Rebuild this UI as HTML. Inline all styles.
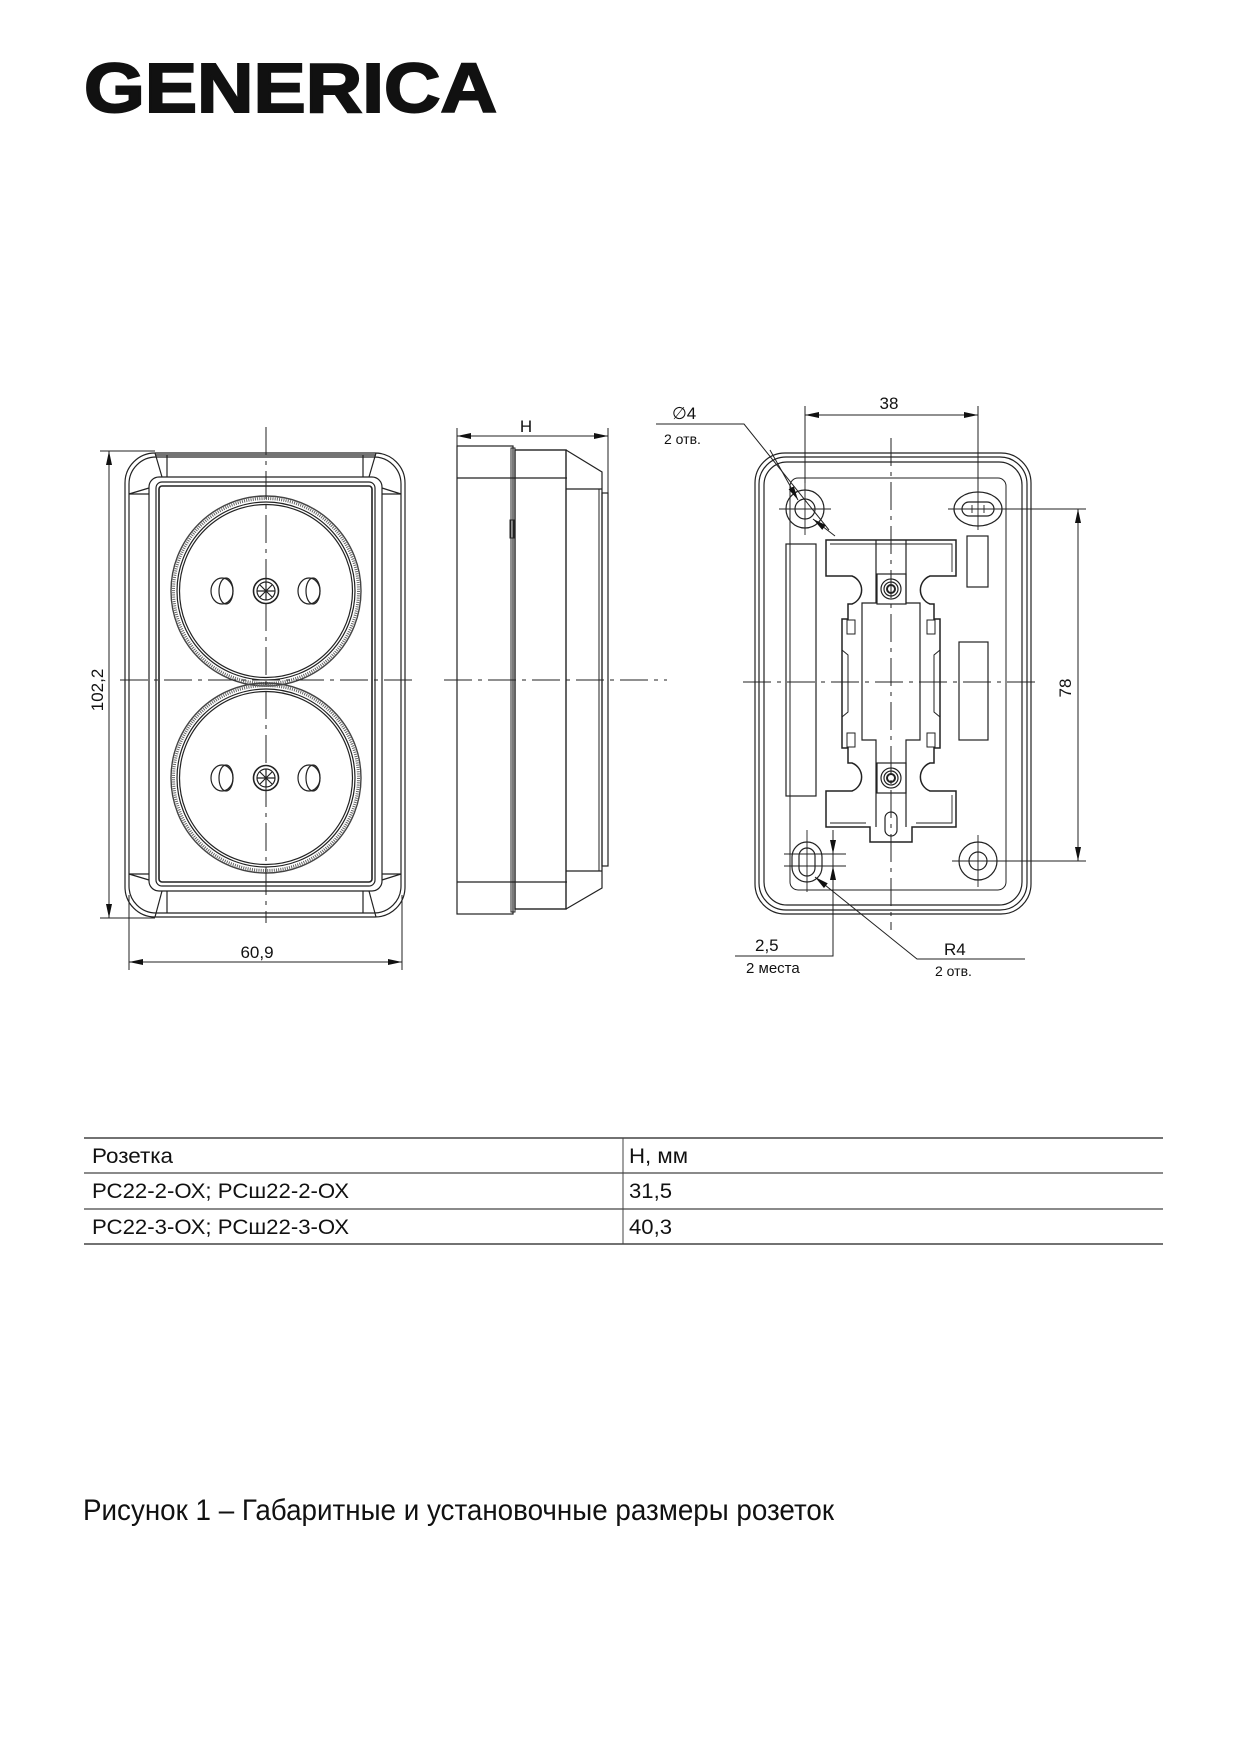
<!DOCTYPE html>
<html><head><meta charset="utf-8"><style>
html,body{margin:0;padding:0;background:#fff}
svg{display:block}
text{font-family:"Liberation Sans",Arial,sans-serif;fill:#111}
</style></head><body>
<svg width="1241" height="1748" viewBox="0 0 1241 1748" xmlns="http://www.w3.org/2000/svg">
<defs>
<marker id="ar" viewBox="0 0 14 6" refX="14" refY="3" markerWidth="14" markerHeight="6" markerUnits="userSpaceOnUse" orient="auto-start-reverse">
<path d="M0,0 L14,3 L0,6 z" fill="#111"/></marker>
</defs>
<rect width="1241" height="1748" fill="#fff"/>

<text x="84" y="112" font-size="70" font-weight="bold" textLength="413" lengthAdjust="spacingAndGlyphs" stroke="#111" stroke-width="2">GENERICA</text>

<g fill="none" stroke="#222" stroke-width="1.2">
<rect x="125" y="453" width="280" height="464" rx="30"/>
<rect x="129" y="457" width="272" height="456" rx="27"/>
<rect x="149" y="477" width="233" height="414" rx="10"/>
<rect x="156" y="482" width="219" height="404" rx="6"/>
<rect x="159" y="486" width="213" height="396" rx="3" stroke-width="1.6"/>
<line x1="155" y1="455" x2="376" y2="455"/>
<line x1="167" y1="455" x2="167" y2="477"/><line x1="363" y1="455" x2="363" y2="477"/>
<line x1="167" y1="891" x2="167" y2="913"/><line x1="363" y1="891" x2="363" y2="913"/>
<line x1="155" y1="453" x2="162" y2="477"/><line x1="376" y1="453" x2="369" y2="477"/>
<line x1="155" y1="917" x2="162" y2="891"/><line x1="376" y1="917" x2="369" y2="891"/>
<line x1="129" y1="494" x2="149" y2="488"/><line x1="401" y1="494" x2="382" y2="488"/>
<line x1="129" y1="874" x2="149" y2="880"/><line x1="401" y1="874" x2="382" y2="880"/>
<line x1="129" y1="494" x2="149" y2="494"/><line x1="382" y1="494" x2="401" y2="494"/>
<line x1="129" y1="874" x2="149" y2="874"/><line x1="382" y1="874" x2="401" y2="874"/>
<g>
<circle cx="266" cy="591" r="95" stroke="#444" stroke-width="1.4"/>
<circle cx="266" cy="591" r="92.5" stroke="#666" stroke-width="3" stroke-dasharray="1 1.2"/>
<circle cx="266" cy="591" r="89"/>
<circle cx="266" cy="591" r="86.5"/>
<ellipse cx="222" cy="591" rx="11" ry="13"/><ellipse cx="226" cy="591" rx="7" ry="13"/>
<ellipse cx="309" cy="591" rx="11" ry="13"/><ellipse cx="313" cy="591" rx="7" ry="13"/>
<circle cx="266" cy="591" r="12.5" stroke-width="1.6"/><circle cx="266" cy="591" r="9"/>
<path d="M257,591h18M266,582v18M260,585l12,12M272,585l-12,12"/>
</g>
<g>
<circle cx="266" cy="778" r="95" stroke="#444" stroke-width="1.4"/>
<circle cx="266" cy="778" r="92.5" stroke="#666" stroke-width="3" stroke-dasharray="1 1.2"/>
<circle cx="266" cy="778" r="89"/>
<circle cx="266" cy="778" r="86.5"/>
<ellipse cx="222" cy="778" rx="11" ry="13"/><ellipse cx="226" cy="778" rx="7" ry="13"/>
<ellipse cx="309" cy="778" rx="11" ry="13"/><ellipse cx="313" cy="778" rx="7" ry="13"/>
<circle cx="266" cy="778" r="12.5" stroke-width="1.6"/><circle cx="266" cy="778" r="9"/>
<path d="M257,778h18M266,769v18M260,772l12,12M272,772l-12,12"/>
</g>
<line x1="266" y1="427" x2="266" y2="923" stroke-width="1" stroke-dasharray="28 6 4 6"/>
<line x1="120" y1="680" x2="412" y2="680" stroke-width="1" stroke-dasharray="28 6 4 6"/>
<line x1="100" y1="451" x2="155" y2="451" stroke-width="1"/>
<line x1="100" y1="918" x2="155" y2="918" stroke-width="1"/>
<line x1="109" y1="451" x2="109" y2="918" stroke-width="1" marker-start="url(#ar)" marker-end="url(#ar)"/>
<line x1="129" y1="895" x2="129" y2="970" stroke-width="1"/>
<line x1="402" y1="895" x2="402" y2="970" stroke-width="1"/>
<line x1="129" y1="962" x2="402" y2="962" stroke-width="1" marker-start="url(#ar)" marker-end="url(#ar)"/>

<rect x="457" y="446" width="56" height="468"/>
<line x1="457" y1="478" x2="567" y2="478"/><line x1="457" y1="882" x2="567" y2="882"/>
<rect x="511" y="448" width="4" height="464" stroke-width="1"/>
<rect x="515" y="450" width="51" height="459" stroke-width="1.4"/>
<path d="M566,450 L602,472 L602,888 L566,909"/>
<line x1="566" y1="489" x2="602" y2="489"/><line x1="566" y1="871" x2="602" y2="871"/>
<line x1="599" y1="489" x2="599" y2="871" stroke-width="1"/>
<rect x="602" y="493" width="6" height="373"/>
<rect x="510" y="520" width="4" height="18" stroke-width="1"/>
<line x1="444" y1="680" x2="667" y2="680" stroke-width="1" stroke-dasharray="28 6 4 6"/>
<line x1="457" y1="428" x2="457" y2="446" stroke-width="1"/>
<line x1="608" y1="428" x2="608" y2="493" stroke-width="1"/>
<line x1="457" y1="436" x2="608" y2="436" stroke-width="1" marker-start="url(#ar)" marker-end="url(#ar)"/>

<rect x="755" y="453" width="276" height="461" rx="30"/>
<rect x="759" y="457" width="268" height="453" rx="27"/>
<rect x="764" y="462" width="258" height="443" rx="23"/>
<rect x="790" y="478" width="216" height="412" rx="8" stroke-width="1"/>
<circle cx="805" cy="509" r="19"/><circle cx="805" cy="509" r="10"/>
<ellipse cx="978" cy="509" rx="24" ry="17"/><rect x="962" y="502" width="32" height="14" rx="7"/>
<rect x="792" y="842" width="30" height="40" rx="15"/><rect x="799" y="848" width="16" height="28" rx="8"/>
<circle cx="978" cy="861" r="19"/><circle cx="978" cy="861" r="9"/>
<g stroke-width="0.9">
<path d="M779,509h52M805,483v52"/>
<path d="M948,509h62M978,490v40M972,505v8M984,505v8"/>
<path d="M784,854h62M784,866h62M807,830v62"/>
<path d="M952,861h52M978,835v52"/>
</g>
<rect x="786" y="544" width="30" height="252"/>
<rect x="967" y="536" width="21" height="51"/>
<rect x="959" y="642" width="29" height="98"/>
<path d="M826,540 H956 V576 H930 A15,15 0 0 0 930,604 H934 V619 H940 V748 H934 V763 H930 A15,15 0 0 0 930,791 H956 V827 H912 V842 H870 V827 H826 V791 H852 A15,15 0 0 0 852,763 H848 V748 H842 V619 H848 V604 H852 A15,15 0 0 0 852,576 H826 Z" stroke-width="1.5"/>
<path d="M830,544 H952 V572 M830,823 H866 M916,823 H952 V795" stroke-width="0.9"/>
<path d="M876,540 V603 H862 V740 H876 V827 M906,540 V603 H920 V740 H906 V827"/>
<path d="M842,650 L848,655 V712 L842,717 M940,650 L934,655 V712 L940,717" stroke-width="1"/>
<rect x="847" y="620" width="8" height="14" stroke-width="1"/><rect x="927" y="620" width="8" height="14" stroke-width="1"/>
<rect x="847" y="733" width="8" height="14" stroke-width="1"/><rect x="927" y="733" width="8" height="14" stroke-width="1"/>
<rect x="877" y="574" width="29" height="30"/><rect x="877" y="763" width="29" height="30"/>
<circle cx="891" cy="589" r="10"/><circle cx="891" cy="589" r="7"/><circle cx="891" cy="589" r="4" stroke-width="2"/>
<circle cx="891" cy="778" r="10"/><circle cx="891" cy="778" r="7"/><circle cx="891" cy="778" r="4" stroke-width="2"/>
<rect x="885" y="812" width="12" height="24" rx="6"/>
<line x1="891" y1="438" x2="891" y2="930" stroke-width="1" stroke-dasharray="28 6 4 6"/>
<line x1="743" y1="682" x2="1040" y2="682" stroke-width="1" stroke-dasharray="28 6 4 6"/>
<line x1="805" y1="406" x2="805" y2="483" stroke-width="1"/>
<line x1="978" y1="406" x2="978" y2="490" stroke-width="1"/>
<line x1="805" y1="415" x2="978" y2="415" stroke-width="1" marker-start="url(#ar)" marker-end="url(#ar)"/>
<line x1="1004" y1="509" x2="1086" y2="509" stroke-width="1"/>
<line x1="1004" y1="861" x2="1086" y2="861" stroke-width="1"/>
<line x1="1078" y1="509" x2="1078" y2="861" stroke-width="1" marker-start="url(#ar)" marker-end="url(#ar)"/>
<polyline points="656,424 744,424 829,530" stroke-width="1"/>
<line x1="770" y1="450" x2="798" y2="500" stroke-width="1" marker-end="url(#ar)"/>
<line x1="835" y1="536" x2="813" y2="519" stroke-width="1" marker-end="url(#ar)"/>
<polyline points="1025,959 917,959 815,877" stroke-width="1" marker-end="url(#ar)"/>
<polyline points="735,956 833,956 833,836" stroke-width="1"/>
<line x1="833" y1="830" x2="833" y2="854" stroke-width="1" marker-end="url(#ar)"/>
<line x1="833" y1="890" x2="833" y2="866" stroke-width="1" marker-end="url(#ar)"/>
</g>

<text x="0" y="0" font-size="17" text-anchor="middle" transform="translate(103,690) rotate(-90)">102,2</text>
<text x="257" y="958" font-size="17" text-anchor="middle">60,9</text>
<text x="526" y="432" font-size="17" text-anchor="middle">H</text>
<text x="889" y="409" font-size="17" text-anchor="middle">38</text>
<text x="0" y="0" font-size="17" text-anchor="middle" transform="translate(1071,688) rotate(-90)">78</text>
<text x="672" y="419" font-size="17">∅4</text>
<text x="664" y="444" font-size="14">2 отв.</text>
<text x="755" y="951" font-size="17">2,5</text>
<text x="746" y="973" font-size="15">2 места</text>
<text x="944" y="955" font-size="17">R4</text>
<text x="935" y="976" font-size="14">2 отв.</text>

<g stroke="#444">
<line x1="84" y1="1138" x2="1163" y2="1138" stroke-width="1.4"/>
<line x1="84" y1="1173" x2="1163" y2="1173" stroke-width="1.2"/>
<line x1="84" y1="1209" x2="1163" y2="1209" stroke-width="1.2"/>
<line x1="84" y1="1244" x2="1163" y2="1244" stroke-width="1.4"/>
<line x1="623" y1="1138" x2="623" y2="1244" stroke-width="1"/>
</g>
<text x="92" y="1163" font-size="21" textLength="81" lengthAdjust="spacingAndGlyphs">Розетка</text>
<text x="629" y="1163" font-size="21" textLength="59" lengthAdjust="spacingAndGlyphs">Н, мм</text>
<text x="92" y="1198" font-size="21" textLength="257" lengthAdjust="spacingAndGlyphs">РС22-2-ОХ; РСш22-2-ОХ</text>
<text x="629" y="1198" font-size="21" textLength="43" lengthAdjust="spacingAndGlyphs">31,5</text>
<text x="92" y="1234" font-size="21" textLength="257" lengthAdjust="spacingAndGlyphs">РС22-3-ОХ; РСш22-3-ОХ</text>
<text x="629" y="1234" font-size="21" textLength="43" lengthAdjust="spacingAndGlyphs">40,3</text>

<text x="83" y="1520" font-size="30" textLength="751" lengthAdjust="spacingAndGlyphs">Рисунок 1 – Габаритные и установочные размеры розеток</text>
</svg>
</body></html>
